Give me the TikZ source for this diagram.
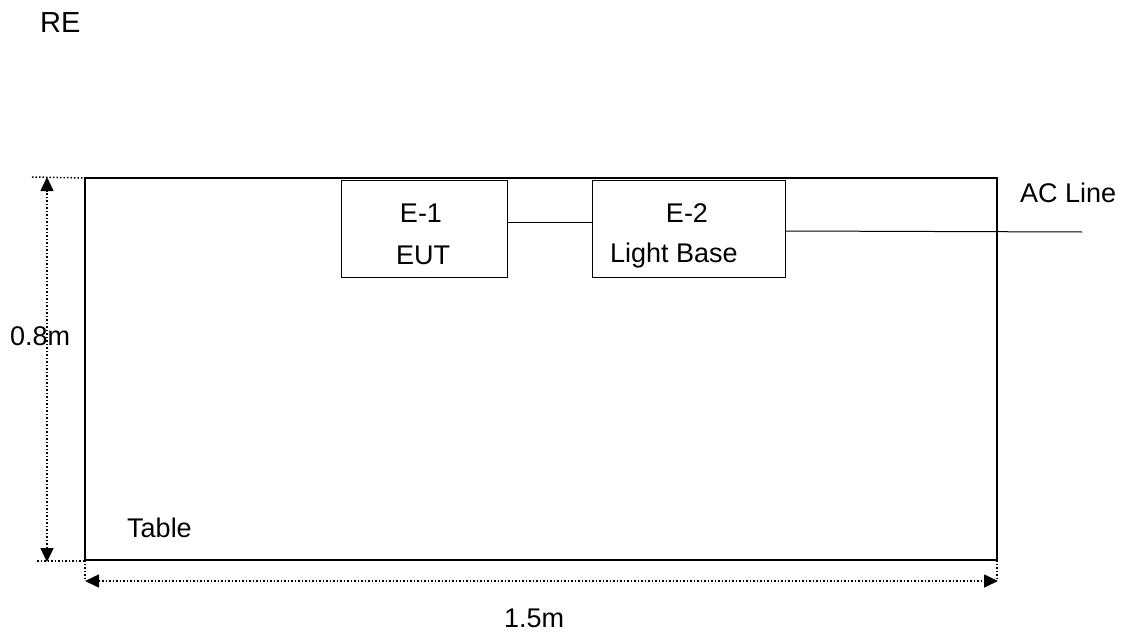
\documentclass[tikz,border=0pt]{standalone}
\usepackage{fontspec}
\setmainfont{Liberation Sans}
\usetikzlibrary{arrows.meta}
\begin{document}
\begin{tikzpicture}[x=1pt,y=-1pt,
  every node/.style={font=\fontsize{27}{31}\selectfont, inner sep=0pt},
  box/.style={draw, line width=1.2pt},
  wire/.style={line width=1pt},
  dim/.style={dotted, line width=1.5pt},
  dimarrow/.style={dim, {Triangle[length=14pt,width=13pt]}-{Triangle[length=14pt,width=13pt]}}]
\useasboundingbox (0,0) rectangle (1125,634);
% table
\coordinate (tl) at (85,178);
\coordinate (br) at (997,560);
\draw[line width=1.4pt] (tl) rectangle (br);
% boxes
\node[box, minimum width=166pt, minimum height=97pt, anchor=north west] (e1) at (341,180) {};
\node[box, minimum width=193pt, minimum height=97pt, anchor=north west] (e2) at (592,180) {};
\node[anchor=base] at (421,222) {E-1};
\node[anchor=base] at (423,264) {EUT};
\node[anchor=base] at (687,222) {E-2};
\node[anchor=base west] at (610,262) {Light Base};
\node[anchor=base west] (ac) at (1020,202) {AC Line};
\node[font=\fontsize{29}{33}\selectfont, anchor=base west] (re) at (40,33) {RE};
\node[anchor=base west] (h) at (10,345) {0.8m};
\node[anchor=base west] (tab) at (127,537) {Table};
\node[anchor=base west] (w) at (504,627) {1.5m};
% connectors
\draw[wire] (e1.east |- 0,222) -- (e2.west |- 0,222);
\coordinate (acend) at (1082,232);
\draw[wire] (e2.east |- 0,231) -- (acend);
% dimension lines
\coordinate (vt) at (47,177);
\coordinate (vb) at (47,562);
\draw[dim] (32,177) -- (tl);
\draw[dim] (37,561) -- (85,561);
\draw[dimarrow] (vb) -- (vt);
\coordinate (hl) at (85,581);
\coordinate (hr) at (998,581);
\draw[dim] (85,560) -- (hl);
\draw[dim] (997,560) -- (997,581);
\draw[dimarrow] (hl) -- (hr);
\end{tikzpicture}
\end{document}
